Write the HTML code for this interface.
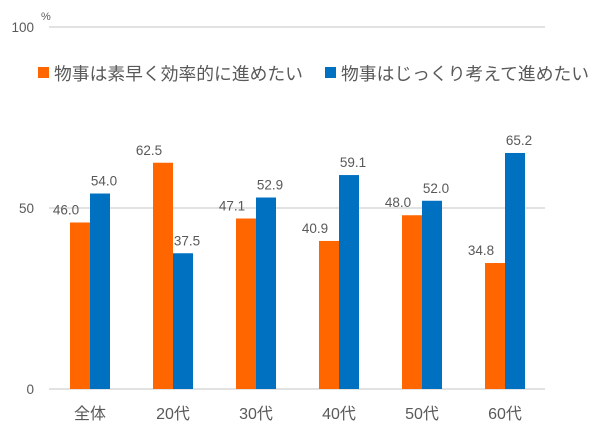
<!DOCTYPE html>
<html><head><meta charset="utf-8"><style>
body{margin:0;background:#fff;width:600px;height:443px;overflow:hidden}
svg text{font-family:"Liberation Sans","Noto Sans CJK JP",sans-serif;fill:#595959}
</style></head><body>
<svg id="c" width="600" height="443"></svg>
<script>
const categories=["全体","20代","30代","40代","50代","60代"];
const seriesA=[46.0,62.5,47.1,40.9,48.0,34.8];
const seriesB=[54.0,37.5,52.9,59.1,52.0,65.2];
const yTicks=[0,50,100];
const seriesNames=["物事は素早く効率的に進めたい","物事はじっくり考えて進めたい"];
const colors=["#FF6600","#0070C0"];
const svg=document.getElementById('c');
const NS="http://www.w3.org/2000/svg";
function mk(t,a,txt){const e=document.createElementNS(NS,t);for(const k in a)e.setAttribute(k,a[k]);if(txt!=null)e.textContent=txt;svg.appendChild(e);return e;}
const y0=389,y100=27;
const y=v=>y0-(y0-y100)*v/100;
const x=i=>90+i*83;
yTicks.forEach(t=>{
 if(t>0){const g=mk('line',{x1:49,x2:545,y1:y(t),y2:y(t),stroke:'#d9d9d9','stroke-width':1.5});
 }
 const l=mk('text',{x:34,y:y(t)+5,'text-anchor':'end','font-size':13.5},String(t));
 
});
const ax=mk('line',{x1:49,x2:545,y1:y0,y2:y0,stroke:'#d9d9d9','stroke-width':1.5});

const pc=mk('text',{x:41,y:20,'font-size':11},'%');

[seriesA,seriesB].forEach((s,si)=>{
 s.forEach((v,i)=>{
  const bx=si==0?x(i)-20:x(i);
  const r=mk('rect',{x:bx,y:y(v),width:20,height:y0-y(v),fill:colors[si]});
  
  const t=mk('text',{x:bx+(si?14:-4),y:y(v)-8,'text-anchor':'middle','font-size':13.5},v.toFixed(1));
  
 });
});
categories.forEach((c,i)=>{
 const t=mk('text',{x:x(i),y:419,'text-anchor':'middle','font-size':16},c);
 
});
[[38,54],[325,341]].forEach((p,i)=>{
 const r=mk('rect',{x:p[0],y:67,width:11,height:11,fill:colors[i]});
 
 const t=mk('text',{x:p[1],y:80,'font-size':17.8},seriesNames[i]);
 
});
</script>
</body></html>
